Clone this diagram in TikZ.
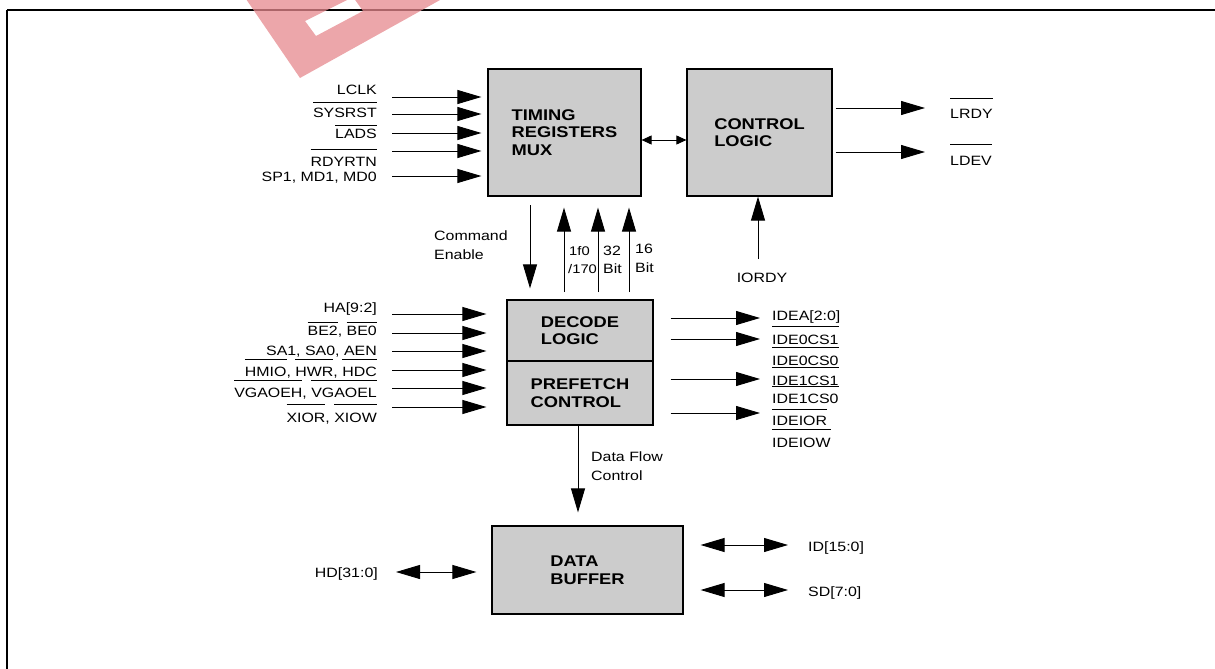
\documentclass[tikz,border=0pt]{standalone}
\usepackage{fontspec}
\setmainfont[FakeStretch=1.18]{Liberation Sans}
\usetikzlibrary{arrows.meta}
% bar over an active-low signal name
\newcommand{\ovl}[2][6pt]{\leavevmode\setbox0=\hbox{#2}\rlap{\rule[\dimexpr\ht0+#1\relax]{\wd0}{0.8pt}}\box0}
\begin{document}
\begin{tikzpicture}[x=1pt, y=-1pt,
        block/.style={draw, line width=1.2pt, fill=black!20, align=left, inner sep=0pt,
            font=\bfseries\fontsize{15.5}{17.5}\selectfont},
        lbl/.style={inner sep=0pt, font=\fontsize{13.5}{19}\selectfont},
        small/.style={inner sep=0pt, font=\fontsize{12.5}{18}\selectfont},
        sig/.style={-{Triangle[length=24pt,width=14pt]}, line width=0.9pt},
        bus/.style={{Triangle[length=24pt,width=14pt]}-{Triangle[length=24pt,width=14pt]}, line width=0.9pt},
        link/.style={{Triangle[length=10pt,width=9pt]}-{Triangle[length=10pt,width=9pt]}, line width=0.9pt},
    ]
    \useasboundingbox (0,0) rectangle (1215,669);
    % frame
    \draw[line width=1.6pt] (7,669) -- (7,10);
    \draw[line width=2pt] (7,10) -- (1215,10);

    % blocks
    \node[block, minimum width=153pt, minimum height=127pt] (timing) at (564.5,132.5) {TIMING\\REGISTERS\\MUX};
    \node[block, minimum width=145pt, minimum height=127pt] (control) at (759.5,132.5) {CONTROL\\LOGIC};
    \node[block, minimum width=146pt, minimum height=61pt] (decode) at (580,330.5) {DECODE\\LOGIC};
    \node[block, minimum width=146pt, minimum height=64pt] (prefetch) at (580,393) {PREFETCH\\CONTROL};
    \node[block, minimum width=191pt, minimum height=88pt] (buffer) at (587.5,570) {DATA\\BUFFER};

    % local bus inputs
    \foreach \lab/\ly/\ay [count=\i] in {LCLK/95/97, \ovl[5pt]{SYSRST}/117/114, \ovl[3pt]{LADS}/138/133,
            \ovl[7pt]{RDYRTN}/166/151, {SP1, MD1, MD0}/181/176} {
        \node[lbl, anchor=base east] (tin\i) at (377,\ly) {\lab};
        \coordinate (tsrc\i) at (392,\ay);
        \draw[sig, shorten >=6pt] (tsrc\i) -- (tsrc\i -| timing.west);
    }
    \draw[link] (timing.east |- 0,140) -- (control.west |- 0,140);

    % local bus outputs
    \foreach \lab/\ly/\ay [count=\i] in {\ovl[10pt]{LRDY}/118/108, \ovl[11pt]{LDEV}/165/152} {
        \coordinate (tout\i) at (925,\ay);
        \draw[sig, shorten <=3pt] (tout\i -| control.east) -- (tout\i);
        \node[lbl, anchor=base west] (tlab\i) at (950,\ly) {\lab};
    }
    \coordinate (iordysrc) at (758,259);
    \draw[sig] (iordysrc) -- (iordysrc |- control.south);
    \node[lbl, anchor=base] (iordy) at (762,282) {IORDY};

    % between timing and decode
    \coordinate (cmd) at (530,205);
    \draw[sig, shorten >=11pt] (cmd) -- (cmd |- decode.north);
    \node[lbl, anchor=base west] (cmd1) at (434,240) {Command};
    \node[lbl, anchor=base west] (cmd2) at (434,259) {Enable};
    \foreach \x [count=\i] in {564,598,629} {
        \coordinate (up\i) at (\x,292);
        \draw[sig, shorten >=11pt] (up\i) -- (up\i |- timing.south);
    }
    \node[small, anchor=base west] (sel1) at (569,255) {1f0};
    \node[small, anchor=base west] (sel2) at (568,273) {/170};
    \node[lbl, anchor=base west] (w32a) at (603,255) {32};
    \node[lbl, anchor=base west] (w32b) at (603,273) {Bit};
    \node[lbl, anchor=base west] (w16a) at (635,253) {16};
    \node[lbl, anchor=base west] (w16b) at (635,272) {Bit};

    % host bus inputs
    \foreach \lab/\ly/\ay [count=\i] in {HA[9:2]/312/314, {\ovl[3pt]{BE2}, \ovl[3pt]{BE0}}/335/333,
            {SA1, SA0, AEN}/355/351, {\ovl[7pt]{HMIO}, \ovl[7pt]{HWR}, \ovl[7pt]{HDC}}/376/370,
            {\ovl[7pt]{VGAOEH}, \ovl[7pt]{VGAOEL}}/397/388, {\ovl[8pt]{XIOR}, \ovl[8pt]{XIOW}}/422/407} {
        \node[lbl, anchor=base east] (hin\i) at (377,\ly) {\lab};
        \coordinate (hsrc\i) at (392,\ay);
        \draw[sig, shorten >=20pt] (hsrc\i) -- (hsrc\i -| decode.west);
    }

    % IDE outputs
    \foreach \ay [count=\i] in {318,339,379,413} {
        \coordinate (ide\i) at (760,\ay);
        \draw[sig, shorten <=17pt] (ide\i -| decode.east) -- (ide\i);
    }
    \foreach \lab/\ly [count=\i] in {IDEA[2:0]/320, \ovl[8pt]{IDE0CS1}/344, \ovl[8pt]{IDE0CS0}/365,
            \ovl[8pt]{IDE1CS1}/385, \ovl[7pt]{IDE1CS0}/403, \ovl[6pt]{IDEIOR}/425, \ovl[8pt]{IDEIOW}/447} {
        \node[lbl, anchor=base west] (idel\i) at (772,\ly) {\lab};
    }

    % data path
    \coordinate (dfc) at (578,0);
    \draw[sig, shorten >=13pt] (dfc |- prefetch.south) -- (dfc |- buffer.north);
    \node[lbl, anchor=base west] (df1) at (591,461) {Data Flow};
    \node[lbl, anchor=base west] (df2) at (591,480) {Control};
    \coordinate (hd) at (396,572);
    \draw[bus, shorten >=15pt] (hd) -- (hd -| buffer.west);
    \node[lbl, anchor=base east] (hdl) at (378,577) {HD[31:0]};
    \foreach \lab/\ly/\ay [count=\i] in {ID[15:0]/551/545, SD[7:0]/596/590} {
        \coordinate (dout\i) at (788,\ay);
        \draw[bus, shorten <=17pt] (dout\i -| buffer.east) -- (dout\i);
        \node[lbl, anchor=base west] (dlab\i) at (808,\ly) {\lab};
    }

    % watermark
    \fill[even odd rule, fill={rgb,255:red,230;green,136;blue,141}, fill opacity=0.75]
        (233,-20) -- (300,78) -- (476,-20) -- cycle
        (305,21) -- (316,36) -- (363,11) -- (353,-3) -- cycle;
\end{tikzpicture}
\end{document}
